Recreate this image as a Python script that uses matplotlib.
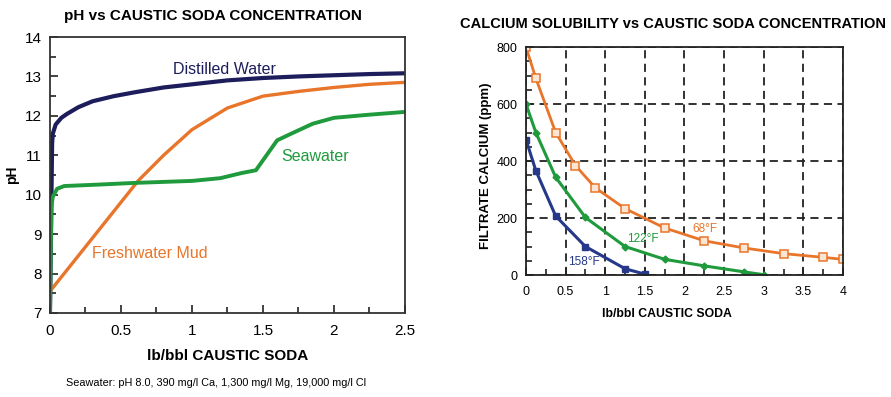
import matplotlib
matplotlib.use("Agg")
import matplotlib.pyplot as plt
from matplotlib.ticker import MultipleLocator

plt.rcParams['font.family'] = ['Liberation Sans', 'DejaVu Sans']

# --- left chart: pH vs caustic soda ---
dist_x = [0, 0.015, 0.02, 0.04, 0.08, 0.12, 0.2, 0.3, 0.45, 0.6, 0.8, 1.0, 1.25, 1.5, 1.75, 2.0, 2.25, 2.5]
dist_y = [7.0, 11.3, 11.55, 11.78, 11.95, 12.05, 12.22, 12.37, 12.5, 12.6, 12.72, 12.8, 12.9, 12.96, 13.0, 13.03, 13.06, 13.08]

sea_x = [0, 0.01, 0.02, 0.05, 0.1, 0.3, 0.6, 1.0, 1.2, 1.35, 1.45, 1.6, 1.7, 1.85, 2.0, 2.25, 2.5]
sea_y = [7.0, 9.7, 9.95, 10.15, 10.22, 10.25, 10.3, 10.35, 10.42, 10.55, 10.62, 11.38, 11.55, 11.8, 11.95, 12.03, 12.1]

fresh_x = [0, 0.62, 0.8, 1.0, 1.25, 1.5, 1.75, 2.0, 2.25, 2.5]
fresh_y = [7.55, 10.35, 11.0, 11.65, 12.2, 12.5, 12.62, 12.72, 12.8, 12.85]

# --- right chart: calcium solubility ---
f68_x = [0, 0.125, 0.375, 0.625, 0.875, 1.25, 1.75, 2.25, 2.75, 3.25, 3.75, 4.0]
f68_y = [800, 690, 500, 384, 306, 233, 165, 120, 95, 75, 62, 55]

f122_x = [0, 0.125, 0.375, 0.75, 1.25, 1.75, 2.25, 2.75, 3.0]
f122_y = [600, 500, 343, 202, 100, 55, 32, 11, 1]

f158_x = [0, 0.125, 0.375, 0.75, 1.25, 1.5]
f158_y = [475, 366, 207, 100, 22, 3]

navy = '#1d1d5c'
orange = '#e8752a'
green = '#1f9a3c'
blue = '#26388a'

fig = plt.figure(figsize=(8.91, 3.97), dpi=100)

# left axes
ax1 = fig.add_axes([0.0561, 0.2116, 0.3984, 0.6952])
ax1.plot(dist_x, dist_y, color=navy, lw=3, solid_capstyle='butt')
ax1.plot(fresh_x, fresh_y, color=orange, lw=2.4)
ax1.plot(sea_x, sea_y, color=green, lw=2.8)
ax1.set_xlim(0, 2.5)
ax1.set_ylim(7, 14)
ax1.xaxis.set_minor_locator(MultipleLocator(0.25))
ax1.yaxis.set_major_locator(MultipleLocator(1))
ax1.yaxis.set_minor_locator(MultipleLocator(0.5))
ax1.set_xticks([0, 0.5, 1, 1.5, 2, 2.5])
ax1.set_xticklabels(['0', '0.5', '1', '1.5', '2', '2.5'])
ax1.tick_params(which='both', direction='in', labelsize=11, color='#222222')
ax1.tick_params(which='major', length=6, width=1.2)
ax1.tick_params(which='minor', length=4, width=1.2)
ax1.tick_params(axis='y', pad=6)
ax1.tick_params(axis='x', pad=8)
for s in ax1.spines.values():
    s.set_linewidth(1.3)
    s.set_color('#333333')
ax1.set_xlabel('lb/bbl CAUSTIC SODA', fontsize=11, fontweight='bold', labelpad=8)
ax1.set_ylabel('pH', fontsize=10, fontweight='bold', labelpad=4)
ax1.set_title('pH vs CAUSTIC SODA CONCENTRATION', fontsize=11, fontweight='bold', pad=12, x=0.46)
ax1.text(1.23, 13.17, 'Distilled Water', color=navy, fontsize=11.5, ha='center', va='center')
ax1.text(1.87, 10.98, 'Seawater', color=green, fontsize=11.5, ha='center', va='center')
ax1.text(0.70, 8.52, 'Freshwater Mud', color=orange, fontsize=11.5, ha='center', va='center')
fig.text(0.242, 0.035, 'Seawater: pH 8.0, 390 mg/l Ca, 1,300 mg/l Mg, 19,000 mg/l Cl',
         fontsize=7.8, ha='center', va='center')

# right axes
ax2 = fig.add_axes([0.5903, 0.3073, 0.3558, 0.5743])
ax2.grid(True, color='#222222', ls=(0, (4.5, 3)), lw=1.3)
ax2.plot(f68_x, f68_y, color=orange, lw=2, marker='s', ms=5.2, mfc='#fbe6d4', mec=orange, mew=1.1)
ax2.plot(f122_x, f122_y, color=green, lw=2.2, marker='D', ms=3.5, mfc=green, mec=green)
ax2.plot(f158_x, f158_y, color=blue, lw=2.2, marker='s', ms=4.8, mfc=blue, mec=blue)
ax2.set_xlim(0, 4)
ax2.set_ylim(0, 800)
ax2.xaxis.set_minor_locator(MultipleLocator(0.25))
ax2.yaxis.set_major_locator(MultipleLocator(200))
ax2.yaxis.set_minor_locator(MultipleLocator(50))
ax2.set_xticks([0, 0.5, 1, 1.5, 2, 2.5, 3, 3.5, 4])
ax2.set_xticklabels(['0', '0.5', '1', '1.5', '2', '2.5', '3', '3.5', '4'])
ax2.tick_params(which='both', direction='in', labelsize=9, color='#222222')
ax2.tick_params(which='major', length=5, width=1.2)
ax2.tick_params(which='minor', length=4, width=1.2)
ax2.tick_params(axis='y', pad=6)
ax2.tick_params(axis='x', pad=8)
for s in ax2.spines.values():
    s.set_linewidth(1.3)
    s.set_color('#222222')
ax2.set_xlabel('lb/bbl CAUSTIC SODA', fontsize=8.8, fontweight='bold', labelpad=7, x=0.445)
ax2.set_ylabel('FILTRATE CALCIUM (ppm)', fontsize=9.5, fontweight='bold', labelpad=3, y=0.48)
ax2.set_title('CALCIUM SOLUBILITY vs CAUSTIC SODA CONCENTRATION', fontsize=10.5, fontweight='bold',
              pad=14, x=0.465)
ax2.text(0.53, 45, '158°F', color=blue, fontsize=8.5, ha='left', va='center')
ax2.text(1.27, 128, '122°F', color=green, fontsize=8.5, ha='left', va='center')
ax2.text(2.1, 160, '68°F', color=orange, fontsize=8.5, ha='left', va='center')

fig.savefig('out.png', dpi=100)
